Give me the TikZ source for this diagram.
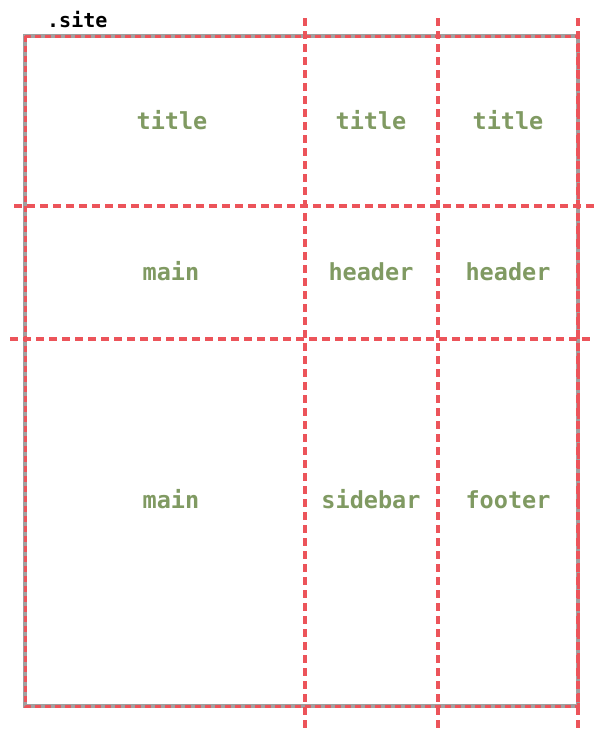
\documentclass[tikz,border=0pt]{standalone}
\usepackage{fontspec}
\setmonofont{DejaVu Sans Mono}
\usepackage{tikz}
\usetikzlibrary{positioning}
\definecolor{gridred}{RGB}{236, 84, 90}
\definecolor{gridgray}{RGB}{160, 160, 160}
\definecolor{areagreen}{RGB}{128, 154, 98}
\tikzset{
    gridline/.style={gridred, line width=3.4pt, dash pattern=on 8pt off 5pt},
    siteframe/.style={gridgray, line width=3.6pt},
    area/.style={text=areagreen, font=\ttfamily\bfseries\fontsize{23.5}{25}\selectfont, inner sep=0pt, text height=13pt, text depth=0pt},
    sitelabel/.style={font=\ttfamily\bfseries\fontsize{20}{22}\selectfont, anchor=south west, inner sep=0pt}
}
\begin{document}
\begin{tikzpicture}[x=1pt, y=-1pt]
    \useasboundingbox (0,0) rectangle (611,734);

    % Container
    \coordinate (nw) at (25,36);
    \coordinate (se) at (578,706);
    \draw[siteframe] (nw) rectangle (se);
    \draw[gridline, line width=3pt, dash pattern=on 6pt off 4pt] (nw) rectangle (se);
    \node[sitelabel] (site) at (47,28) {.site};

    % Grid lines
    \draw[gridline] (305,18) -- (305,728);
    \draw[gridline] (438,18) -- (438,728);
    \draw[gridline] (578,18) -- (578,728);
    \draw[gridline] (14,206) -- (594,206);
    \draw[gridline] (10,339) -- (592,339);

    % Row 1
    \node[area] (title1) at (172,123) {title};
    \node[area] (title2) at (371,123) {title};
    \node[area] (title3) at (508,123) {title};

    % Row 2
    \node[area] (main1) at (171,274) {main};
    \node[area] (header1) at (371,274) {header};
    \node[area] (header2) at (508,274) {header};

    % Row 3
    \node[area] (main2) at (171,502) {main};
    \node[area] (sidebar) at (371,502) {sidebar};
    \node[area] (footer) at (508,502) {footer};

\end{tikzpicture}
\end{document}
